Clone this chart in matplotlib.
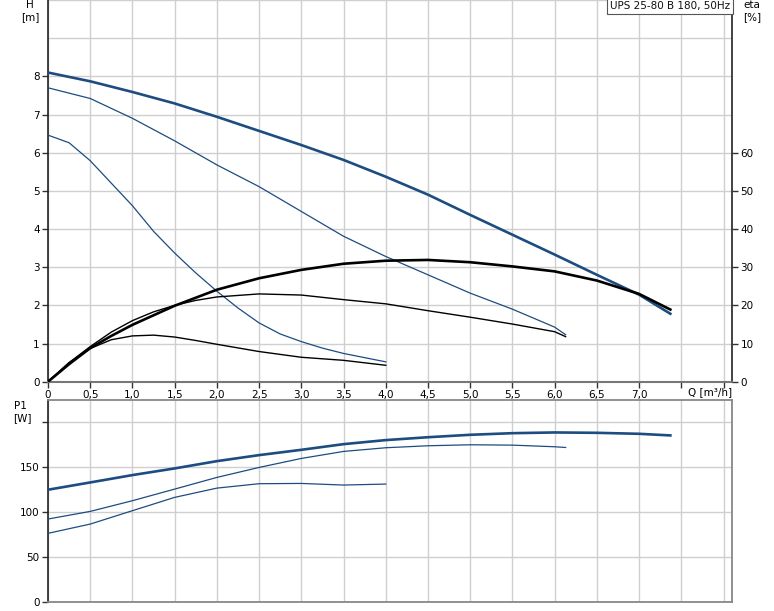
import matplotlib
matplotlib.use("Agg")
import matplotlib.pyplot as plt
from matplotlib.ticker import FixedLocator

# ---------------- data ----------------
title = "UPS 25-80 B 180, 50Hz"

# Head curves H [m]
q_h3 = [0, 0.5, 1.0, 1.5, 2.0, 2.5, 3.0, 3.5, 4.0, 4.5, 5.0, 5.5, 6.0, 6.5, 7.0, 7.37]
h_3 = [8.10, 7.87, 7.59, 7.29, 6.94, 6.57, 6.20, 5.81, 5.37, 4.90, 4.37, 3.85, 3.33, 2.80, 2.28, 1.78]

q_h2 = [0, 0.5, 1.0, 1.5, 2.0, 2.5, 3.0, 3.5, 4.0, 4.5, 5.0, 5.5, 6.0, 6.13]
h_2 = [7.70, 7.42, 6.90, 6.31, 5.68, 5.11, 4.46, 3.81, 3.28, 2.80, 2.32, 1.90, 1.43, 1.23]

q_h1 = [0, 0.25, 0.5, 0.75, 1.0, 1.25, 1.5, 1.75, 2.0, 2.25, 2.5, 2.75, 3.0, 3.25, 3.5, 3.75, 4.0]
h_1 = [6.46, 6.26, 5.79, 5.20, 4.61, 3.94, 3.37, 2.85, 2.37, 1.93, 1.54, 1.25, 1.05, 0.88, 0.74, 0.63, 0.52]

# Efficiency curves eta [%]
q_e3 = [0, 0.25, 0.5, 0.75, 1.0, 1.5, 2.0, 2.5, 3.0, 3.5, 4.0, 4.5, 5.0, 5.5, 6.0, 6.5, 7.0, 7.37]
e_3 = [0, 4.6, 8.8, 12.0, 14.9, 19.9, 24.1, 27.1, 29.3, 30.9, 31.7, 31.9, 31.3, 30.2, 28.9, 26.5, 23.0, 18.9]

q_e2 = [0, 0.25, 0.5, 0.75, 1.0, 1.25, 1.5, 1.75, 2.0, 2.5, 3.0, 3.5, 4.0, 4.5, 5.0, 5.5, 6.0, 6.13]
e_2 = [0, 5.0, 9.2, 13.0, 16.0, 18.3, 20.0, 21.3, 22.2, 23.0, 22.7, 21.5, 20.4, 18.6, 16.9, 15.1, 13.1, 11.8]

q_e1 = [0, 0.25, 0.5, 0.75, 1.0, 1.25, 1.5, 1.75, 2.0, 2.5, 3.0, 3.5, 4.0]
e_1 = [0, 5.0, 8.7, 11.0, 12.0, 12.2, 11.7, 10.8, 9.8, 7.9, 6.4, 5.6, 4.3]

# Power curves P1 [W]
q_p3 = [0, 0.5, 1.0, 1.5, 2.0, 2.5, 3.0, 3.5, 4.0, 4.5, 5.0, 5.5, 6.0, 6.5, 7.0, 7.37]
p_3 = [125.2, 133.3, 141.5, 148.9, 157.0, 163.7, 169.6, 175.9, 180.4, 183.6, 186.3, 188.1, 188.9, 188.5, 187.4, 185.6]

q_p2 = [0, 0.5, 1.0, 1.5, 2.0, 2.5, 3.0, 3.5, 4.0, 4.5, 5.0, 5.5, 6.0, 6.13]
p_2 = [92.6, 101.1, 113.0, 125.9, 138.9, 150.0, 160.0, 167.8, 171.9, 174.1, 175.2, 174.8, 173.0, 172.2]

q_p1 = [0, 0.5, 1.0, 1.5, 2.0, 2.5, 3.0, 3.5, 4.0]
p_1 = [76.7, 87.0, 101.9, 116.7, 127.0, 131.9, 132.2, 130.4, 131.5]

q_labels = ["0", "0,5", "1,0", "1,5", "2,0", "2,5", "3,0", "3,5", "4,0", "4,5",
            "5,0", "5,5", "6,0", "6,5", "7,0", "", ""]
h_ticks = [0, 1, 2, 3, 4, 5, 6, 7, 8]
eta_ticks = [0, 10, 20, 30, 40, 50, 60]
p_ticks = [0, 50, 100, 150, 200]
p_labels = ["0", "50", "100", "150", ""]

# ---------------- styling ----------------
BLUE = "#1d4c80"
GRID = "#cfcfcf"
FS = 7.5
plt.rcParams['font.family'] = ['DejaVu Sans']

fig = plt.figure(figsize=(7.74, 6.11), dpi=100)
W, H = 774.0, 611.0

def pos(l, t, r, b):
    return [l / W, 1 - b / H, (r - l) / W, (b - t) / H]

QMAX = 8.1
q_grid = [i * 0.5 for i in range(17)]

# ---------------- top axes (H & eta) ----------------
ax = fig.add_axes(pos(48, 0, 732, 381.7))
ax.set_xlim(0, QMAX)
ax.set_ylim(0, 10)
ax.xaxis.set_major_locator(FixedLocator(q_grid))
ax.set_xticklabels(q_labels)
ax.yaxis.set_major_locator(FixedLocator(h_ticks))
ax.yaxis.set_minor_locator(FixedLocator([9, 10]))
ax.grid(True, which='both', color=GRID, lw=1.0)
ax.tick_params(axis='y', which='minor', length=0)
ax.tick_params(axis='both', which='major', labelsize=FS, length=4, width=1,
               color='#333333', pad=2)
ax.set_axisbelow(True)
for s in ['left', 'right']:
    ax.spines[s].set_color('#222222')
    ax.spines[s].set_linewidth(1.2)
ax.spines['bottom'].set_color('#777777')
ax.spines['bottom'].set_linewidth(1.5)
ax.spines['top'].set_visible(False)

ax.plot(q_h3, h_3, color=BLUE, lw=1.9, zorder=3)
ax.plot(q_h2, h_2, color=BLUE, lw=0.9, zorder=3)
ax.plot(q_h1, h_1, color=BLUE, lw=0.9, zorder=3)

ax2 = ax.twinx()
ax2.set_ylim(0, 100)
ax2.yaxis.set_major_locator(FixedLocator(eta_ticks))
ax2.tick_params(axis='y', labelsize=FS, length=4, width=1, color='#333333', pad=2)
for s in ax2.spines.values():
    s.set_visible(False)
ax2.plot(q_e3, e_3, color='black', lw=1.9, zorder=3)
ax2.plot(q_e2, e_2, color='black', lw=1.0, zorder=3)
ax2.plot(q_e1, e_1, color='black', lw=1.0, zorder=3)

ax.text(0.997, 0.997, title, transform=ax.transAxes, ha='right', va='top',
        fontsize=FS, color='#111111',
        bbox=dict(boxstyle='square,pad=0.3', fc='white', ec='#555555', lw=0.8),
        zorder=10)

fig.text(30 / W, 1 - 5 / H, "H", ha='center', va='center', fontsize=FS)
fig.text(30 / W, 1 - 17 / H, "[m]", ha='center', va='center', fontsize=FS)
fig.text(752 / W, 1 - 5 / H, "eta", ha='center', va='center', fontsize=FS)
fig.text(752 / W, 1 - 17 / H, "[%]", ha='center', va='center', fontsize=FS)
fig.text(710 / W, 1 - 392 / H, "Q [m\u00b3/h]", ha='center', va='center', fontsize=FS)

# ---------------- bottom axes (P1) ----------------
bx = fig.add_axes(pos(48, 400, 732, 602.3))
bx.set_xlim(0, QMAX)
bx.set_ylim(0, 225)
bx.xaxis.set_major_locator(FixedLocator(q_grid))
bx.set_xticklabels([])
bx.tick_params(axis='x', length=0)
bx.yaxis.set_major_locator(FixedLocator(p_ticks))
bx.set_yticklabels(p_labels)
bx.tick_params(axis='y', labelsize=FS, length=4, width=1, color='#333333', pad=2)
bx.grid(True, color=GRID, lw=1.0)
bx.set_axisbelow(True)
bx.spines['left'].set_color('#222222')
bx.spines['left'].set_linewidth(1.2)
for s in ['top', 'right', 'bottom']:
    bx.spines[s].set_color('#888888')
    bx.spines[s].set_linewidth(1.3)

bx.plot(q_p3, p_3, color=BLUE, lw=1.9, zorder=3)
bx.plot(q_p2, p_2, color=BLUE, lw=0.9, zorder=3)
bx.plot(q_p1, p_1, color=BLUE, lw=0.9, zorder=3)

fig.text(20 / W, 1 - 406 / H, "P1", ha='center', va='center', fontsize=FS)
fig.text(22 / W, 1 - 418 / H, "[W]", ha='center', va='center', fontsize=FS)

fig.savefig("out.png", dpi=100)
